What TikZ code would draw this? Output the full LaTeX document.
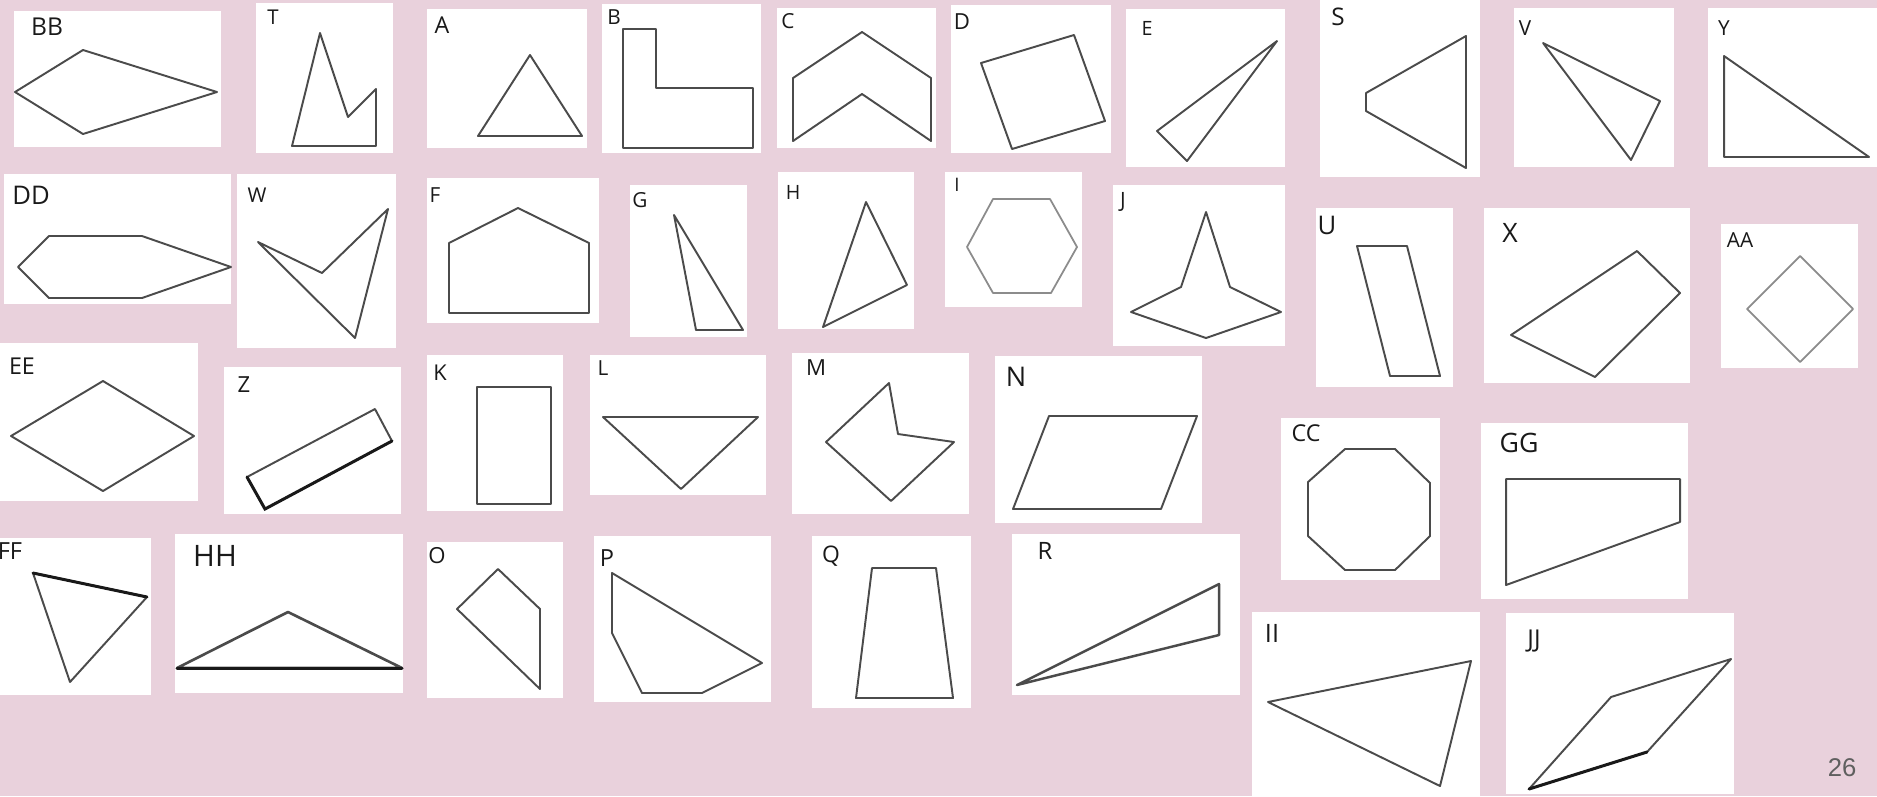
\documentclass[tikz,border=0pt]{standalone}
\usepackage{fontspec}
\setmainfont{Open Sans}
\newfontfamily\numfont{Liberation Sans}
\definecolor{bgpink}{RGB}{233,209,220}
\definecolor{edge}{RGB}{75,75,75}
\definecolor{edgelight}{RGB}{140,140,140}
\definecolor{labc}{RGB}{25,25,25}
\definecolor{numc}{RGB}{95,95,95}
\tikzset{
 card/.style={fill=white, draw=none},
 shp/.style={draw=edge, line width=0.55pt, line join=round},
 shplight/.style={draw=edgelight, line width=0.5pt, line join=round},
 heavy/.style={draw=black!90, line width=0.85pt, line cap=round},
 lbl/.style={font=\fontsize{#1}{#1}\selectfont, inner sep=0pt, text=labc},
}
\begin{document}
\begin{tikzpicture}[x=0.01cm,y=-0.01cm]
\fill[bgpink] (0,0) rectangle (1877,796);
\useasboundingbox (0,0) rectangle (1877,796);
% ---------- cards ----------
\fill[card] (14,11) rectangle (221,147);
\fill[card] (256,3) rectangle (393,153);
\fill[card] (427,9) rectangle (587,148);
\fill[card] (602,4) rectangle (761,153);
\fill[card] (777,8) rectangle (936,148);
\fill[card] (951,5) rectangle (1111,153);
\fill[card] (1126,9) rectangle (1285,167);
\fill[card] (1320,0) rectangle (1480,177);
\fill[card] (1514,8) rectangle (1674,167);
\fill[card] (1708,8) rectangle (1877,167);
\fill[card] (4,174) rectangle (231,304);
\fill[card] (237,174) rectangle (396,348);
\fill[card] (427,178) rectangle (599,323);
\fill[card] (630,185) rectangle (747,337);
\fill[card] (778,172) rectangle (914,329);
\fill[card] (945,172) rectangle (1082,307);
\fill[card] (1113,185) rectangle (1285,346);
\fill[card] (1316,208) rectangle (1453,387);
\fill[card] (1484,208) rectangle (1690,383);
\fill[card] (1721,224) rectangle (1858,368);
\fill[card] (0,343) rectangle (198,501);
\fill[card] (224,367) rectangle (401,514);
\fill[card] (427,355) rectangle (563,511);
\fill[card] (590,355) rectangle (766,495);
\fill[card] (792,353) rectangle (969,514);
\fill[card] (995,356) rectangle (1202,523);
\fill[card] (1281,418) rectangle (1440,580);
\fill[card] (1481,423) rectangle (1688,599);
\fill[card] (0,538) rectangle (151,695);
\fill[card] (175,534) rectangle (403,693);
\fill[card] (427,542) rectangle (563,698);
\fill[card] (594,536) rectangle (771,702);
\fill[card] (812,536) rectangle (971,708);
\fill[card] (1012,534) rectangle (1240,695);
\fill[card] (1252,612) rectangle (1480,796);
\fill[card] (1506,613) rectangle (1734,794);
% ---------- shapes ----------
% BB
\draw[shp] (15,92) -- (83,50) -- (217,92) -- (83,134) -- cycle;
% T
\draw[shp] (320,33) -- (348,117) -- (376,89) -- (376,146) -- (292,146) -- cycle;
% A
\draw[shp] (530,55) -- (582,136) -- (478,136) -- cycle;
% B
\draw[shp] (623,29) -- (656,29) -- (656,88) -- (753,88) -- (753,148) -- (623,148) -- cycle;
% C
\draw[shp] (793,78) -- (862,32) -- (931,78) -- (931,141) -- (862,94) -- (793,141) -- cycle;
% D
\draw[shp] (981,63) -- (1074,35) -- (1105,121) -- (1012,149) -- cycle;
% E
\draw[shp] (1277,41) -- (1157,131) -- (1187,161) -- cycle;
% S
\draw[shp] (1366,93) -- (1466,36) -- (1466,168) -- (1366,111) -- cycle;
% V
\draw[shp] (1543,43) -- (1660,101) -- (1631,160) -- cycle;
% Y
\draw[shp] (1724,56) -- (1869,157) -- (1724,157) -- cycle;
% DD
\draw[shp] (18,267) -- (49,236) -- (142,236) -- (231,267) -- (142,298) -- (49,298) -- cycle;
% W
\draw[shp] (258,242) -- (322,273) -- (388,209) -- (355,338) -- cycle;
% F
\draw[shp] (449,243) -- (518,208) -- (589,243) -- (589,313) -- (449,313) -- cycle;
% G
\draw[shp] (674,215) -- (743,330) -- (696,330) -- cycle;
% H
\draw[shp] (866,202) -- (907,285) -- (823,327) -- cycle;
% I
\draw[shplight] (993,199) -- (1050,199) -- (1077,247) -- (1051,293) -- (993,293) -- (967,247) -- cycle;
% J
\draw[shp] (1206,212) -- (1230,287) -- (1281,312) -- (1206,338) -- (1131,312) -- (1181,287) -- cycle;
% U
\draw[shp] (1357,246) -- (1407,246) -- (1440,376) -- (1390,376) -- cycle;
% X
\draw[shp] (1637,251) -- (1680,293) -- (1595,377) -- (1511,335) -- cycle;
% AA
\draw[shplight] (1800,256) -- (1853,309) -- (1800,362) -- (1747,309) -- cycle;
% EE
\draw[shp] (103,381) -- (194,436) -- (103,491) -- (11,436) -- cycle;
% Z
\draw[shp] (375,409) -- (392,441) -- (265,509) -- (247,477) -- cycle;
\draw[heavy] (392,441) -- (265,509) -- (247,477);
% K
\draw[shp] (477,387) -- (551,387) -- (551,504) -- (477,504) -- cycle;
% L
\draw[shp] (603,417) -- (758,417) -- (681,489) -- cycle;
% M
\draw[shp] (826,442) -- (889,383) -- (898,434) -- (954,442) -- (891,501) -- cycle;
% N
\draw[shp] (1049,416) -- (1197,416) -- (1161,509) -- (1013,509) -- cycle;
% CC
\draw[shp] (1345,449) -- (1395,449) -- (1430,483) -- (1430,536) -- (1395,570) -- (1345,570) -- (1308,536) -- (1308,482) -- cycle;
% GG
\draw[shp] (1506,479) -- (1680,479) -- (1680,522) -- (1506,585) -- cycle;
% FF
\draw[shp] (33,573) -- (147,597) -- (70,682) -- cycle;
\draw[heavy] (33,573) -- (147,597);
% HH
\draw[shp, line width=0.75pt] (177,668) -- (288,612) -- (402,668) -- cycle;
\draw[heavy] (177,668) -- (402,668);
% O
\draw[shp] (457,609) -- (498,569) -- (540,609) -- (540,689) -- cycle;
% P
\draw[shp] (612,573) -- (762,663) -- (702,693) -- (642,693) -- (612,633) -- cycle;
% Q
\draw[shp] (872,568) -- (936,568) -- (953,698) -- (856,698) -- cycle;
% R
\draw[shp, line width=0.7pt] (1017,685) -- (1219,584) -- (1219,635) -- cycle;
% II
\draw[shp] (1268,702) -- (1471,661) -- (1440,786) -- cycle;
% JJ
\draw[shp] (1529,789) -- (1611,697) -- (1731,659) -- (1647,752) -- cycle;
\draw[heavy] (1529,789) -- (1647,752);
% ---------- labels ----------
\node[lbl=7.0] (lBB) at (47,27) {BB};
\node[lbl=5.8] (lT) at (273,17) {T};
\node[lbl=6.6] (lA) at (442,25) {A};
\node[lbl=5.9] (lB) at (614,17) {B};
\node[lbl=5.9] (lC) at (788,21) {C};
\node[lbl=6.3] (lD) at (962,22) {D};
\node[lbl=5.6] (lE) at (1147,28) {E};
\node[lbl=6.9] (lS) at (1338,17) {S};
\node[lbl=5.9] (lV) at (1525,28) {V};
\node[lbl=5.9] (lY) at (1724,28) {Y};
\node[lbl=7.3] (lDD) at (31,195) {DD};
\node[lbl=5.8] (lW) at (257,195) {W};
\node[lbl=5.9] (lF) at (435,195) {F};
\node[lbl=5.9] (lG) at (640,200) {G};
\node[lbl=5.6] (lH) at (793,192) {H};
\node[lbl=5.3] (lI) at (957,185) {I};
\node[lbl=6.0] (lJ) at (1123,202) {J};
\node[lbl=7.3] (lU) at (1327,225) {U};
\node[lbl=7.6] (lX) at (1510,233) {X};
\node[lbl=5.9] (lAA) at (1740,240) {AA};
\node[lbl=6.6] (lEE) at (22,366) {EE};
\node[lbl=6.3] (lZ) at (244,385) {Z};
\node[lbl=6.2] (lK) at (440,373) {K};
\node[lbl=5.9] (lL) at (603,368) {L};
\node[lbl=6.3] (lM) at (816,368) {M};
\node[lbl=7.7] (lN) at (1016,377) {N};
\node[lbl=6.6] (lCC) at (1306,433) {CC};
\node[lbl=7.6] (lGG) at (1519,443) {GG};
\node[lbl=6.7] (lFF) at (10,551) {FF};
\node[lbl=8.4] (lHH) at (215,556) {HH};
\node[lbl=6.3] (lO) at (437,556) {O};
\node[lbl=6.7] (lP) at (607,558) {P};
\node[lbl=6.5] (lQ) at (831,556) {Q};
\node[lbl=6.8] (lR) at (1045,551) {R};
\node[lbl=7.2] (lII) at (1272,633) {II};
\node[lbl=7.0] (lJJ) at (1534,641) {JJ};
\node[font=\numfont\fontsize{7.3}{7.3}\selectfont, inner sep=0pt, text=numc] (pnum) at (1842,768) {26};
\end{tikzpicture}
\end{document}
